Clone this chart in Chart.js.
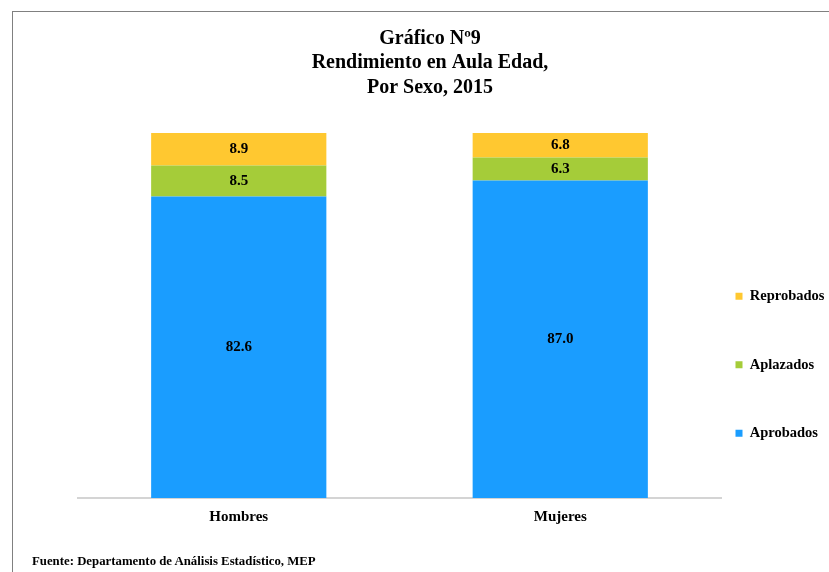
<!DOCTYPE html>
<html>
<head>
<meta charset="utf-8">
<script src="https://cdn.jsdelivr.net/npm/chart.js@4/dist/chart.umd.min.js"></script>
<style>
  html, body { margin: 0; padding: 0; background: #ffffff; }
  #frame { position: absolute; left: 12px; top: 11px; width: 900px; height: 700px;
           border-left: 1px solid #808080; border-top: 1px solid #808080; }
  #wrap { position: absolute; left: 0; top: 0; width: 829px; height: 572px; }
  #source { position: absolute; left: 32px; top: 554px; font: bold 12.8px "Liberation Serif", "Times New Roman", serif;
            color: #000; white-space: nowrap; }
</style>
</head>
<body>
<div id="frame"></div>
<div id="wrap"><canvas id="chart"></canvas></div>
<div id="source">Fuente: Departamento de Análisis Estadístico, MEP</div>
<script>
const categories = ["Hombres", "Mujeres"];
const aprobados = [82.6, 87.0];
const aplazados = [8.5, 6.3];
const reprobados = [8.9, 6.8];
const seriesNames = ["Aprobados", "Aplazados", "Reprobados"];
const titleLines = ["Gráfico Nº9", "Rendimiento en Aula Edad,", "Por Sexo, 2015"];

const SERIF = "'Liberation Serif', 'Times New Roman', serif";

const valueLabels = {
  id: "valueLabels",
  afterDatasetsDraw(chart) {
    const ctx = chart.ctx;
    ctx.save();
    ctx.font = "bold 15px " + SERIF;
    ctx.fillStyle = "#000000";
    ctx.textAlign = "center";
    ctx.textBaseline = "middle";
    chart.data.datasets.forEach((ds, di) => {
      const meta = chart.getDatasetMeta(di);
      if (meta.hidden) return;
      meta.data.forEach((el, i) => {
        const p = el.getProps(["x", "y", "base"], true);
        ctx.fillText(ds.data[i].toFixed(1), p.x, (p.y + p.base) / 2);
      });
    });
    ctx.restore();
  }
};

const legendPlacement = {
  id: "legendPlacement",
  afterLayout(chart) {
    const lg = chart.legend;
    if (!lg) return;
    const pad = lg.options.labels.padding;
    lg.left = chart.chartArea.right + 14.5 - pad;
    lg.right = chart.width;
    lg.top = 235;
    lg.bottom = chart.height;
  }
};

new Chart(document.getElementById("chart"), {
  type: "bar",
  data: {
    labels: categories,
    datasets: [
      { label: seriesNames[0], data: aprobados, backgroundColor: "#1a9dff" },
      { label: seriesNames[1], data: aplazados, backgroundColor: "#a5cc39" },
      { label: seriesNames[2], data: reprobados, backgroundColor: "#ffc830" }
    ]
  },
  options: {
    responsive: true,
    maintainAspectRatio: false,
    animation: false,
    layout: { padding: { left: 78, right: 47, top: 0, bottom: 36 } },
    datasets: { bar: { barPercentage: 0.545, categoryPercentage: 1.0 } },
    scales: {
      x: {
        stacked: true,
        grid: { display: false, drawTicks: false },
        border: { display: true, color: "#d4d4d4", width: 2 },
        ticks: { color: "#000000", padding: 10, font: { family: SERIF, size: 15, weight: "bold" } }
      },
      y: {
        stacked: true,
        display: false,
        min: 0,
        max: 100
      }
    },
    plugins: {
      title: {
        display: true,
        text: titleLines,
        color: "#000000",
        font: { family: SERIF, size: 20, weight: "bold", lineHeight: 1.225 },
        padding: { top: 26.25, bottom: 33.25 }
      },
      legend: {
        display: true,
        position: "right",
        align: "start",
        reverse: true,
        maxWidth: 61,
        labels: {
          boxWidth: 7,
          boxHeight: 7,
          padding: 54,
          color: "#000000",
          font: { family: SERIF, size: 14.5, weight: "bold" }
        }
      },
      tooltip: { enabled: false }
    }
  },
  plugins: [valueLabels, legendPlacement]
});
</script>
</body>
</html>
